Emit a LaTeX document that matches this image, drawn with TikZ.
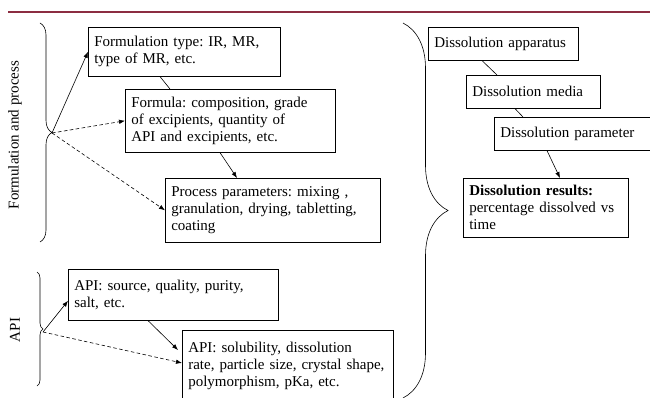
\documentclass[tikz,border=0pt]{standalone}
\usepackage{fontspec}
\setmainfont{Liberation Serif}
\usetikzlibrary{arrows.meta,decorations.pathreplacing}
\definecolor{rulered}{RGB}{140,45,65}
\newcommand{\boxfont}{\fontsize{15}{17}\selectfont\frenchspacing\hyphenpenalty=10000}
\tikzset{
  box/.style={draw,line width=0.6pt,anchor=north west,align=left,inner xsep=6pt,inner ysep=3pt,
    font=\boxfont},
  link/.style={line width=0.6pt},
  arr/.style={line width=0.6pt,-{Latex[length=6pt,width=4.5pt]}},
  darr/.style={arr,dashed,dash pattern=on 3.5pt off 2.5pt},
  bracedeco/.style={decorate,line width=0.6pt,decoration={brace,amplitude=#1}},
}
\begin{document}
\begin{tikzpicture}[x=1pt,y=-1pt]
	\useasboundingbox (0,0) rectangle (650,398);
	\clip (0,0) rectangle (650,398);
	\draw [rulered,line width=2pt] (8,12) -- (650,12);
	% left column
	\node [box,text width=180pt,minimum height=49pt] (ftype) at (88,27) {Formulation type: IR, MR,\\type of MR, etc.};
	\node [box,text width=198pt,minimum height=63pt] (formula) at (125,89) {Formula: composition, grade\\of excipients, quantity of\\API and excipients, etc.};
	\node [box,text width=203pt,minimum height=64pt] (process) at (165,178) {Process parameters: mixing ,\\granulation, drying, tabletting,\\coating};
	\node [box,text width=198pt,minimum height=51pt] (apisrc) at (68,269) {API: source, quality, purity,\\salt, etc.};
	\node [box,text width=199pt,minimum height=72pt] (apiprop) at (182,330) {API: solubility, dissolution\\rate, particle size, crystal shape,\\polymorphism, pKa, etc.};
	% right column
	\node [box,text width=138pt,minimum height=33pt] (app) at (428,27) {Dissolution apparatus};
	\node [box,text width=122pt,minimum height=33pt] (media) at (466,75) {Dissolution media};
	\node [box,text width=162pt,minimum height=33pt] (param) at (494,117) {Dissolution parameter};
	\node [box,text width=153pt,minimum height=59pt] (results) at (463,178) {\textbf{Dissolution results:}\\percentage dissolved vs\\time};
	% braces
	\draw [bracedeco=12pt] (40,23) -- (40,242);
	\coordinate (ftip) at (52,133);
	\draw [bracedeco=6pt] (37,272) -- (37,386);
	\coordinate (atip) at (43,332);
	\draw [bracedeco=45pt] (403,23) -- (403,398);
	% rotated labels
	\node [rotate=90,font=\boxfont] (flabel) at (15,135) {Formulation and process};
	\node [rotate=90,font=\boxfont] (alabel) at (15,330) {API};
	% connectors
	\draw [arr] (ftip) to (ftype.west);
	\draw [darr] (ftip) to (formula.west);
	\draw [darr] (ftip) to (process.west);
	\draw [link] ([xshift=72pt]ftype.south west) to ([xshift=45pt]formula.north west);
	\draw [arr] ([xshift=95pt]formula.south west) to ([xshift=72pt]process.north west);
	\draw [arr] (atip) to ([yshift=-6pt]apisrc.west);
	\draw [darr] (atip) to ([yshift=-33pt]apiprop.north west);
	\draw [arr] ([xshift=80pt]apisrc.south west) to ([xshift=-4pt,yshift=-20pt]apiprop.north west);
	\draw [link] ([xshift=54pt]app.south west) to ([xshift=31pt]media.north west);
	\draw [link] ([xshift=49pt]media.south west) to ([xshift=29pt]param.north west);
	\draw [arr] ([xshift=53pt]param.south west) to ([xshift=97pt]results.north west);
\end{tikzpicture}
\end{document}
